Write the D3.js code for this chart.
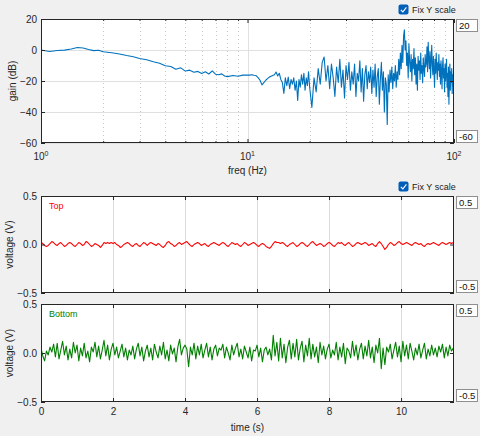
<!DOCTYPE html>
<html>
<head>
<meta charset="utf-8">
<script src="https://cdn.jsdelivr.net/npm/d3@7"></script>
<style>
body { margin: 0; background: #f0f0f0; }
svg { display: block; font-family: "Liberation Sans", Arial, sans-serif; }
</style>
</head>
<body>
<div id="viz"></div>
<script>
// gain curve
var freqs = [
  1,1.1,1.2,1.3,1.4,1.5,1.6,1.7,1.8,1.9,
  2,2.2,2.4,2.6,2.8,3,3.25,3.5,3.75,4,
  4.25,4.5,4.75,5,5.25,5.5,5.75,6,6.25,6.5,
  6.75,7,7.25,7.5,7.75,8,8.5,9,9.5,10,
  10.25,10.5,10.75,11,11.25,11.5,11.75,12,12.25,12.5,
  12.75,13,13.25,13.5,13.75,14,14.25,14.5,14.75,15,
  15.25,15.5,15.75,16,16.25,16.5,16.75,17,17.25,17.5,
  17.75,18,18.25,18.5,18.75,19,19.25,19.5,19.75,20,
  20.5,21,21.5,22,22.5,23,23.5,24,24.5,25,
  25.5,26,26.5,27,27.5,28,28.5,29,29.5,30,
  30.5,31,31.5,32,32.5,33,33.5,34,34.5,35,
  35.5,36,36.5,37,37.5,38,38.5,39,39.5,40,
  40.5,41,41.5,42,42.5,43,43.5,44,44.5,45,
  45.5,46,46.5,47,47.5,48,48.5,49,49.5,50,
  50.5,51,51.5,52,52.5,53,53.5,54,54.5,55,
  55.5,56,56.5,57,57.5,58,58.5,59,59.5,60,
  60.5,61,61.5,62,62.5,63,63.5,64,64.5,65,
  65.5,66,66.5,67,67.5,68,68.5,69,69.5,70,
  70.5,71,71.5,72,72.5,73,73.5,74,74.5,75,
  75.5,76,76.5,77,77.5,78,78.5,79,79.5,80,
  80.5,81,81.5,82,82.5,83,83.5,84,84.5,85,
  85.5,86,86.5,87,87.5,88,88.5,89,89.5,90,
  90.5,91,91.5,92,92.5,93,93.5,94,94.5,95,
  95.5,96,96.5,97,97.5,98,98.5,99,99.5,100
];
var gains = [
  0,-1,-0.3,-0.1,0.6,1.6,1.3,0.3,-0.4,-0.2,
  -1.1,-1.8,-2.6,-3.6,-4.4,-5.5,-6.3,-7.6,-8.6,-10.2,
  -10.6,-12.4,-11.5,-13.6,-13,-14.3,-13.8,-15.1,-14,-15.5,
  -13.5,-15.6,-16,-15.4,-16.8,-17.2,-16.4,-16.9,-16.2,-16.1,
  -16.2,-16,-16.3,-16.5,-17.8,-19.5,-22.5,-21,-19.5,-18.5,
  -17.5,-17,-16.5,-16,-14.2,-16.8,-15,-19,-21,-28,
  -18,-23,-17.5,-25,-19,-22,-18,-26,-20,-32.5,
  -19,-24,-16,-22,-15,-26,-18,-23,-14,-24,
  -37,-18,-27,-12,-22,-8,-4.5,-20,-10,-25,
  -9,-18,-30,-11,-21,-6,-24,-13,-31,-10,
  -19,-8,-26,-14,-22,-9,-30,-15,-20,-7,
  -27,-12,-33,-16,-10,-25,-14,-21,-11,-28,
  -13,-24,-9,-30,-17,-12,-35,-19,-8,-26,
  -14,-40,-18,-22,-48,-16,-27,-13,-21,-11,
  -25,-15,-20,-10,-24,-14,-19,-6,-16,-2,
  -12,3,-8,9,13,0,6,-10,-2,-18,
  4,-8,-14,-3,-20,-6,-12,1,-16,-5,
  -22,-9,-26,-4,-13,-7,-19,-2,-15,-10,
  -21,-5,-12,-17,-3,-11,-8,2,-14,5,
  -6,-12,-1,-18,-7,3,-10,-16,-4,-13,
  -24,-6,-15,-2,-11,-19,-8,-13,-3,-17,
  -9,-22,-7,-14,-25,-10,-5,-18,-12,-27,
  -9,-20,-13,-6,-24,-15,-30,-11,-35,-18,
  -9,-26,-14,-21,-12,-28,-16,-23,-13,-19
];
var gainTicks = [20, 0, -20, -40, -60];
var freqTicks = [1, 10, 100];
var gainBoxes = ['20', '-60'];

// time signals
var times = [
  0,0.05,0.1,0.15,0.2,0.25,0.3,0.35,0.4,0.45,0.5,0.55,0.6,0.65,0.7,0.75,0.8,0.85,0.9,0.95,
  1,1.05,1.1,1.15,1.2,1.25,1.3,1.35,1.4,1.45,1.5,1.55,1.6,1.65,1.7,1.75,1.8,1.85,1.9,1.95,
  2,2.05,2.1,2.15,2.2,2.25,2.3,2.35,2.4,2.45,2.5,2.55,2.6,2.65,2.7,2.75,2.8,2.85,2.9,2.95,
  3,3.05,3.1,3.15,3.2,3.25,3.3,3.35,3.4,3.45,3.5,3.55,3.6,3.65,3.7,3.75,3.8,3.85,3.9,3.95,
  4,4.05,4.1,4.15,4.2,4.25,4.3,4.35,4.4,4.45,4.5,4.55,4.6,4.65,4.7,4.75,4.8,4.85,4.9,4.95,
  5,5.05,5.1,5.15,5.2,5.25,5.3,5.35,5.4,5.45,5.5,5.55,5.6,5.65,5.7,5.75,5.8,5.85,5.9,5.95,
  6,6.05,6.1,6.15,6.2,6.25,6.3,6.35,6.4,6.45,6.5,6.55,6.6,6.65,6.7,6.75,6.8,6.85,6.9,6.95,
  7,7.05,7.1,7.15,7.2,7.25,7.3,7.35,7.4,7.45,7.5,7.55,7.6,7.65,7.7,7.75,7.8,7.85,7.9,7.95,
  8,8.05,8.1,8.15,8.2,8.25,8.3,8.35,8.4,8.45,8.5,8.55,8.6,8.65,8.7,8.75,8.8,8.85,8.9,8.95,
  9,9.05,9.1,9.15,9.2,9.25,9.3,9.35,9.4,9.45,9.5,9.55,9.6,9.65,9.7,9.75,9.8,9.85,9.9,9.95,
  10,10.05,10.1,10.15,10.2,10.25,10.3,10.35,10.4,10.45,10.5,10.55,10.6,10.65,10.7,10.75,10.8,10.85,10.9,10.95,
  11,11.05,11.1,11.15,11.2,11.25,11.3,11.35,11.4,11.45
];
var topVolts = [
  0.02,0.01,-0.01,-0.02,-0.01,0.01,0.03,0.02,0,-0.01,0.01,0.02,0,-0.02,-0.01,0.01,0.02,0.01,-0.01,-0.02,
  0,0.02,0.01,-0.01,0,0.03,0.02,0,-0.02,-0.01,0.01,0,-0.01,-0.03,-0.01,0.02,0.01,0.02,0.01,0.02,
  0.01,0.02,0,-0.01,-0.03,-0.02,0,0.01,0.02,0.01,-0.01,-0.02,0,0.01,-0.01,-0.02,0,0.02,0.01,-0.01,
  0.01,0.02,0.01,0,-0.01,0.01,0,-0.02,-0.03,-0.01,0.02,0.03,0.01,0,-0.02,-0.01,0.01,0.02,0,0.01,
  0.02,0.03,0.01,-0.01,-0.02,0,0.01,0.02,0.01,-0.01,0,0.01,-0.01,-0.02,0,0.01,0.02,0.01,0,-0.01,
  0.01,0.02,0.01,-0.01,-0.02,0,0.02,0.01,0,0.01,-0.01,-0.02,0,0.02,0.01,-0.01,0,0.01,0.02,0.01,
  -0.01,-0.02,0,0.01,0,-0.02,-0.03,-0.04,-0.02,0.01,0.03,0.02,0.02,0.01,0.02,0.01,-0.01,-0.02,0,0.01,
  0.02,0,-0.02,-0.01,0.01,0.02,0.01,-0.01,-0.02,0,0.02,0.03,0.01,-0.01,0,0.01,0,-0.02,-0.01,0.01,
  0.02,0.01,-0.01,-0.02,0,0.02,0.01,0.02,0,-0.01,0.01,0.02,0,-0.02,-0.01,0.01,0.02,0.01,0,0.01,
  0.02,0.01,-0.01,0,0.01,-0.01,-0.02,0.01,0.03,0.01,-0.02,-0.05,-0.03,0,0.02,0.01,-0.01,0,0.02,0.03,
  0.01,0,0.01,0.02,0.01,0,-0.01,0.01,0.02,0.01,0,0.01,-0.01,-0.02,0,0.01,0,0.01,0.02,0.01,
  0,-0.01,0.01,0.02,0.01,0,0.01,0.02,0.01,0.02
];
var bottomVolts = [
  0.05,-0.03,-0.08,0.02,-0.02,0.06,0.01,0.09,-0.04,0.1,-0.06,0.03,0.12,-0.02,0.07,-0.07,0.04,-0.05,0.11,0,
  0.08,-0.08,0.05,-0.03,0.1,-0.05,0.02,-0.09,0.06,0.01,0.11,-0.04,0.07,-0.06,0.03,0.13,-0.03,0.08,-0.07,0.04,
  0.1,-0.02,0.06,-0.05,0.02,0.09,-0.04,0.05,-0.07,0.03,-0.02,0.07,-0.06,0.04,0.1,-0.03,0.06,-0.08,0.02,0.08,
  -0.04,0.05,-0.07,0.09,0.01,-0.05,0.07,-0.02,0.11,-0.06,0.03,-0.08,0.08,-0.01,0.05,-0.09,0.06,0.14,-0.02,0.05,
  0.08,0.04,-0.14,0.06,-0.02,0.1,-0.06,0.07,-0.02,0.09,-0.05,0.03,0.1,-0.04,0.06,-0.07,0.04,0.08,-0.03,0.05,
  0.03,0.09,-0.05,0.06,0,-0.07,0.08,-0.02,0.05,0.1,-0.04,0.04,-0.06,0.07,0.01,-0.05,0.06,-0.08,0.03,0.02,
  0.08,-0.04,0.05,-0.09,0.03,0.06,-0.02,0.04,-0.07,0.18,-0.03,0.11,-0.08,0.15,-0.05,0.09,-0.1,0.06,0.13,-0.06,
  0.1,-0.04,0.14,-0.07,0.05,0.12,-0.09,0.08,-0.03,0.15,-0.06,0.09,-0.04,0.06,-0.1,0.11,-0.02,0.07,-0.06,0.04,
  0.09,-0.05,0.03,-0.02,0.11,-0.07,0.06,-0.04,0.1,-0.11,0.05,0.02,-0.05,0.12,-0.03,0.08,-0.07,0.04,0.1,-0.06,
  0.07,-0.03,0.13,-0.05,0.06,-0.1,0.08,0,0.15,-0.16,0.05,-0.12,0.06,0.01,0.09,-0.06,0.03,0.11,-0.04,0.07,
  -0.09,0.12,-0.03,0.08,-0.06,0.1,0.02,-0.07,0.05,-0.02,0.09,-0.05,0.03,0.1,-0.06,0.04,-0.03,0.08,-0.02,0.05,
  -0.04,0.07,0.01,0.09,-0.05,0.06,-0.03,0.08,0.02,0.05
];
var voltTicks = [0.5, 0, -0.5];
var timeTicks = [0, 2, 4, 6, 8, 10];
var voltBoxes = ['0.5', '-0.5'];

var width = 480, height = 436,
    left = 41, right = 454,
    axisColor = '#262626';

var svg = d3.select('#viz').append('svg')
    .attr('width', width)
    .attr('height', height);

function styleAxis(g, size) {
  g.select('.domain').remove();
  g.selectAll('line').attr('stroke', axisColor);
  g.selectAll('text').attr('fill', axisColor).style('font-size', (size || 10) + 'px');
}

function valueBox(y, label) {
  svg.append('rect')
    .attr('x', 456.5).attr('y', y + 0.5)
    .attr('width', 21).attr('height', 12)
    .attr('fill', '#fff').attr('stroke', '#8f8f8f');
  svg.append('text')
    .attr('x', 459).attr('y', y + 10)
    .style('font-size', '9.5px').attr('fill', '#111')
    .text(label);
}

function checkBox(y) {
  svg.append('rect')
    .attr('x', 398.5).attr('y', y + 0.5)
    .attr('width', 10).attr('height', 10).attr('rx', 2)
    .attr('fill', '#005fb8');
  svg.append('path')
    .attr('d', 'M400.8,' + (y + 5.8) + 'L402.9,' + (y + 7.9) + 'L406.4,' + (y + 3.4))
    .attr('fill', 'none').attr('stroke', '#fff').attr('stroke-width', 1.1);
  svg.append('text')
    .attr('x', 412).attr('y', y + 8.8)
    .style('font-size', '9px').attr('fill', '#1a1a1a')
    .text('Fix Y scale');
}

function yLabel(x, y, label) {
  svg.append('text')
    .attr('transform', 'translate(' + x + ',' + y + ') rotate(-90)')
    .attr('text-anchor', 'middle')
    .style('font-size', '10px').attr('fill', axisColor)
    .text(label);
}

// ---- gain panel ----
var gTop = 19, gBottom = 143;
var xScale = d3.scaleLog().domain([1, 100]).range([left, right]);
var yGain = d3.scaleLinear().domain([-60, 20]).range([gBottom, gTop]);
var minorFreqs = xScale.ticks().filter(function(d) { return freqTicks.indexOf(d) < 0; });

var p1 = svg.append('g');
p1.append('rect')
  .attr('x', left).attr('y', gTop)
  .attr('width', right - left).attr('height', gBottom - gTop)
  .attr('fill', '#fff');
p1.selectAll('.minor').data(minorFreqs)
  .enter().append('line')
  .attr('x1', function(d) { return Math.round(xScale(d)) + 0.5; })
  .attr('x2', function(d) { return Math.round(xScale(d)) + 0.5; })
  .attr('y1', gTop).attr('y2', gBottom)
  .attr('stroke', '#c8c8c8').attr('stroke-dasharray', '1,3');
p1.selectAll('.hgrid').data(gainTicks)
  .enter().append('line')
  .attr('x1', left).attr('x2', right)
  .attr('y1', function(d) { return Math.round(yGain(d)) + 0.5; })
  .attr('y2', function(d) { return Math.round(yGain(d)) + 0.5; })
  .attr('stroke', '#e0e0e0');
p1.append('line')
  .attr('x1', Math.round(xScale(10)) + 0.5).attr('x2', Math.round(xScale(10)) + 0.5)
  .attr('y1', gTop).attr('y2', gBottom)
  .attr('stroke', '#e0e0e0');

p1.append('clipPath').attr('id', 'clip1')
  .append('rect').attr('x', left).attr('y', gTop)
  .attr('width', right - left).attr('height', gBottom - gTop);
p1.append('path')
  .datum(gains)
  .attr('clip-path', 'url(#clip1)')
  .attr('fill', 'none')
  .attr('stroke', '#0072bd')
  .attr('stroke-width', 1.1)
  .attr('stroke-linejoin', 'round')
  .attr('d', d3.line()
    .x(function(d, i) { return xScale(freqs[i]); })
    .y(function(d) { return yGain(d); }));

p1.append('g').attr('transform', 'translate(' + left + ',0)')
  .call(d3.axisLeft(yGain).tickValues(gainTicks).tickSize(-4).tickPadding(4))
  .call(styleAxis);
p1.append('g').attr('transform', 'translate(' + right + ',0)')
  .call(d3.axisRight(yGain).tickValues(gainTicks).tickSize(-4).tickFormat(''))
  .call(styleAxis);
p1.append('g').attr('transform', 'translate(0,' + gBottom + ')')
  .call(d3.axisBottom(xScale).tickValues(freqTicks).tickSize(-4).tickFormat(''))
  .call(styleAxis);
p1.append('g').attr('transform', 'translate(0,' + gBottom + ')')
  .call(d3.axisBottom(xScale).tickValues(minorFreqs).tickSize(-2).tickFormat(''))
  .call(styleAxis);
p1.append('g').attr('transform', 'translate(0,' + gTop + ')')
  .call(d3.axisTop(xScale).tickValues(freqTicks).tickSize(-4).tickFormat(''))
  .call(styleAxis);
p1.append('g').attr('transform', 'translate(0,' + gTop + ')')
  .call(d3.axisTop(xScale).tickValues(minorFreqs).tickSize(-2).tickFormat(''))
  .call(styleAxis);

var powLabels = p1.selectAll('.pow').data(freqTicks)
  .enter().append('text')
  .attr('x', function(d) { return xScale(d); })
  .attr('y', 160)
  .attr('text-anchor', 'middle')
  .attr('fill', axisColor)
  .style('font-size', '10px');
powLabels.append('tspan').text('10');
powLabels.append('tspan')
  .attr('dy', -4).style('font-size', '7px')
  .text(function(d) { return Math.round(Math.log10(d)); });

p1.append('rect')
  .attr('x', left + 0.5).attr('y', gTop + 0.5)
  .attr('width', right - left - 1).attr('height', gBottom - gTop - 1)
  .attr('fill', 'none').attr('stroke', axisColor);

p1.append('text')
  .attr('x', (left + right) / 2).attr('y', 174)
  .attr('text-anchor', 'middle')
  .style('font-size', '10px').attr('fill', axisColor)
  .text('freq (Hz)');
yLabel(16, (gTop + gBottom) / 2, 'gain (dB)');
checkBox(4);
valueBox(gTop, gainBoxes[0]);
valueBox(gBottom - 13, gainBoxes[1]);

// ---- time panels ----
var xTime = d3.scaleLinear().domain([0, 11.47]).range([left, right]);

function timePanel(y0, y1, volts, color, name, id, withLabels) {
  var yV = d3.scaleLinear().domain([-0.5, 0.5]).range([y1, y0]);
  var g = svg.append('g');
  g.append('rect')
    .attr('x', left).attr('y', y0)
    .attr('width', right - left).attr('height', y1 - y0)
    .attr('fill', '#fff');
  g.selectAll('.vgrid').data(timeTicks.slice(1))
    .enter().append('line')
    .attr('x1', function(d) { return Math.round(xTime(d)) + 0.5; })
    .attr('x2', function(d) { return Math.round(xTime(d)) + 0.5; })
    .attr('y1', y0).attr('y2', y1)
    .attr('stroke', '#dcdcdc');

  g.append('clipPath').attr('id', id)
    .append('rect').attr('x', left).attr('y', y0)
    .attr('width', right - left).attr('height', y1 - y0);
  g.append('path')
    .datum(volts)
    .attr('clip-path', 'url(#' + id + ')')
    .attr('fill', 'none')
    .attr('stroke', color)
    .attr('stroke-width', 1.1)
    .attr('stroke-linejoin', 'round')
    .attr('d', d3.line()
      .x(function(d, i) { return xTime(times[i]); })
      .y(function(d) { return yV(d); }));

  g.append('g').attr('transform', 'translate(' + left + ',0)')
    .call(d3.axisLeft(yV).tickValues(voltTicks).tickSize(-4).tickPadding(4))
    .call(styleAxis);
  g.append('g').attr('transform', 'translate(' + right + ',0)')
    .call(d3.axisRight(yV).tickValues(voltTicks).tickSize(-4).tickFormat(''))
    .call(styleAxis);
  g.append('g').attr('transform', 'translate(0,' + y0 + ')')
    .call(d3.axisTop(xTime).tickValues(timeTicks).tickSize(-4).tickFormat(''))
    .call(styleAxis);
  var bx = d3.axisBottom(xTime).tickValues(timeTicks).tickSize(-4).tickPadding(6);
  if (!withLabels) bx.tickFormat('');
  g.append('g').attr('transform', 'translate(0,' + y1 + ')')
    .call(bx)
    .call(styleAxis);

  g.append('rect')
    .attr('x', left + 0.5).attr('y', y0 + 0.5)
    .attr('width', right - left - 1).attr('height', y1 - y0 - 1)
    .attr('fill', 'none').attr('stroke', axisColor);

  g.append('text')
    .attr('x', 49).attr('y', y0 + 12.5)
    .style('font-size', '9px').attr('fill', color)
    .text(name);
  yLabel(13, (y0 + y1) / 2, 'voltage (V)');
  valueBox(y0, voltBoxes[0]);
  valueBox(y1 - 13, voltBoxes[1]);
}

checkBox(181);
timePanel(196, 293, topVolts, '#ff0000', 'Top', 'clip2', false);
timePanel(304, 402, bottomVolts, '#008000', 'Bottom', 'clip3', true);

svg.append('text')
  .attr('x', (left + right) / 2).attr('y', 431)
  .attr('text-anchor', 'middle')
  .style('font-size', '10px').attr('fill', axisColor)
  .text('time (s)');
</script>
</body>
</html>
